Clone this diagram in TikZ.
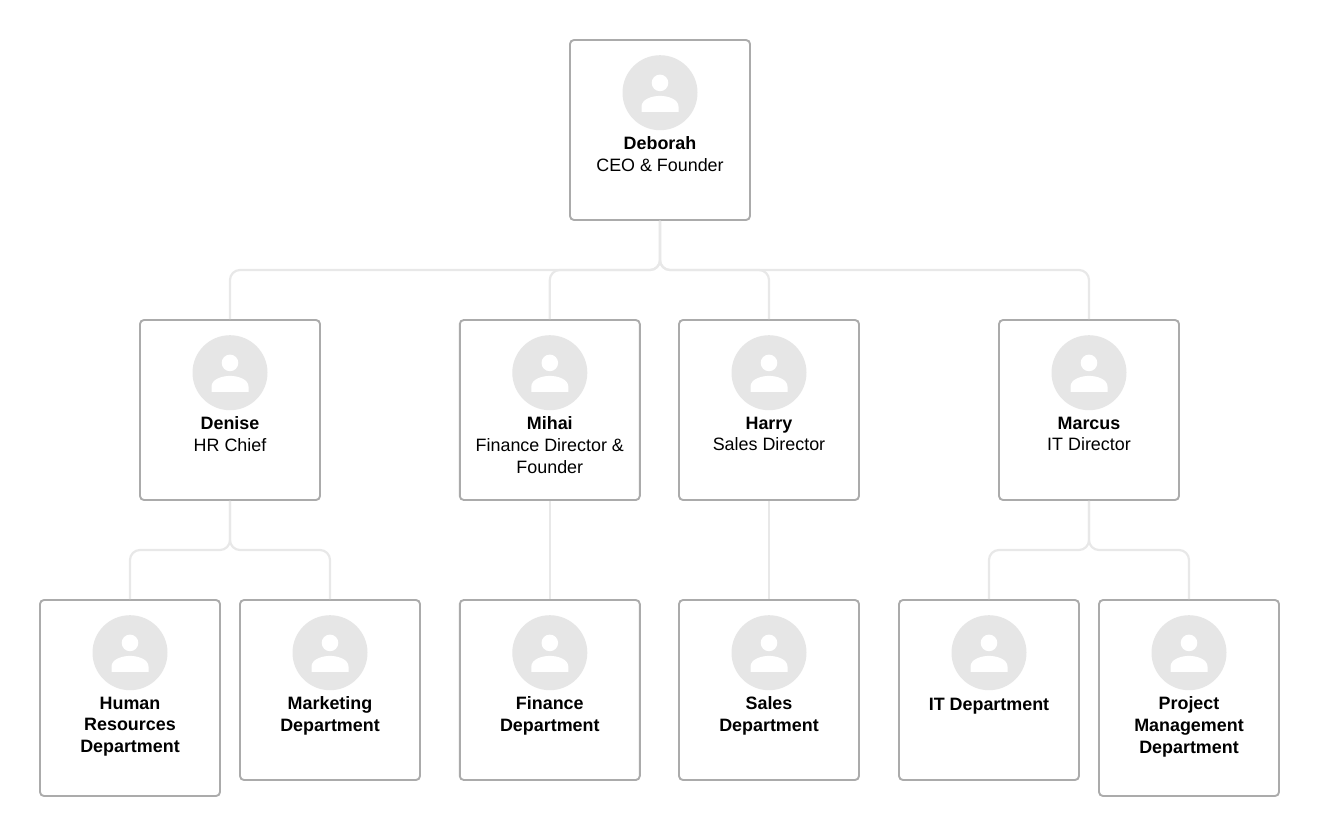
\documentclass[tikz,border=0pt]{standalone}
\usepackage{fontspec}
\setmainfont{Liberation Sans}
\usetikzlibrary{positioning}
\definecolor{cardline}{HTML}{ABABAB}
\definecolor{linkline}{HTML}{E8E8E8}
\definecolor{picfill}{HTML}{E6E6E6}
\tikzset{
  card/.style={draw=cardline,line width=1.9pt,rounded corners=4pt,fill=white,minimum width=180pt,inner sep=0pt,anchor=north},
  pic disc/.style={circle,fill=picfill,minimum size=75pt,inner sep=0pt},
  caption/.style={align=center,inner sep=0pt,font=\fontsize{17.9}{21.7}\selectfont,execute at begin node={\rule{0pt}{13.3pt}}},
  link/.style={linkline,line width=2.2pt,rounded corners=10pt}
}
\begin{document}
\begin{tikzpicture}[x=1pt,y=-1pt]
  \useasboundingbox (0,0) rectangle (1320,836);
  % cards: name / centre x / top y / height / text
  \foreach \id/\x/\y/\h/\txt in {
      deborah/660/39.05/180/{\textbf{Deborah}\\CEO \& Founder},
      denise/230/319.05/180/{\textbf{Denise}\\HR Chief},
      mihai/549.8/319.05/180/{\textbf{Mihai}\\Finance Director \&\\Founder},
      harry/769/319.05/180/{\textbf{Harry}\\Sales Director},
      marcus/1089/319.05/180/{\textbf{Marcus}\\IT Director},
      hrdept/130/599.05/196/{\textbf{Human}\\\textbf{Resources}\\\textbf{Department}},
      mktdept/330/599.05/180/{\textbf{Marketing}\\\textbf{Department}},
      findept/549.8/599.05/180/{\textbf{Finance}\\\textbf{Department}},
      salesdept/769/599.05/180/{\textbf{Sales}\\\textbf{Department}},
      itdept/989/599.05/180/{\textbf{IT Department}},
      pmdept/1189/599.05/196/{\textbf{Project}\\\textbf{Management}\\\textbf{Department}}}
  {
    \node[card,minimum height=\h pt] (\id) at (\x,\y) {};
    \node[pic disc,below=15.95pt of \id.north] (\id-pic) {};
    \node[caption,below=6.1pt of \id-pic] (\id-text) {\txt};
    \begin{scope}[shift={(\id-pic.center)}]
      \fill[white] (0,-9.8) circle (8.3pt);
      \fill[white] (-18.5,19.2) -- (-18.5,14) .. controls (-18.5,6.5) and (-8,3.2) .. (0,3.2)
        .. controls (8,3.2) and (18.5,6.5) .. (18.5,14) -- (18.5,19.2) -- cycle;
    \end{scope}
  }
  % connectors
  \coordinate (rowa) at (0,270);
  \coordinate (rowb) at (0,550);
  \foreach \a/\b/\r in {deborah/denise/rowa,deborah/mihai/rowa,deborah/harry/rowa,deborah/marcus/rowa,
      denise/hrdept/rowb,denise/mktdept/rowb,mihai/findept/rowb,harry/salesdept/rowb,
      marcus/itdept/rowb,marcus/pmdept/rowb}
    \draw[link] (\a.south) -- (\a.south |- \r) -| (\b.north);
\end{tikzpicture}
\end{document}
